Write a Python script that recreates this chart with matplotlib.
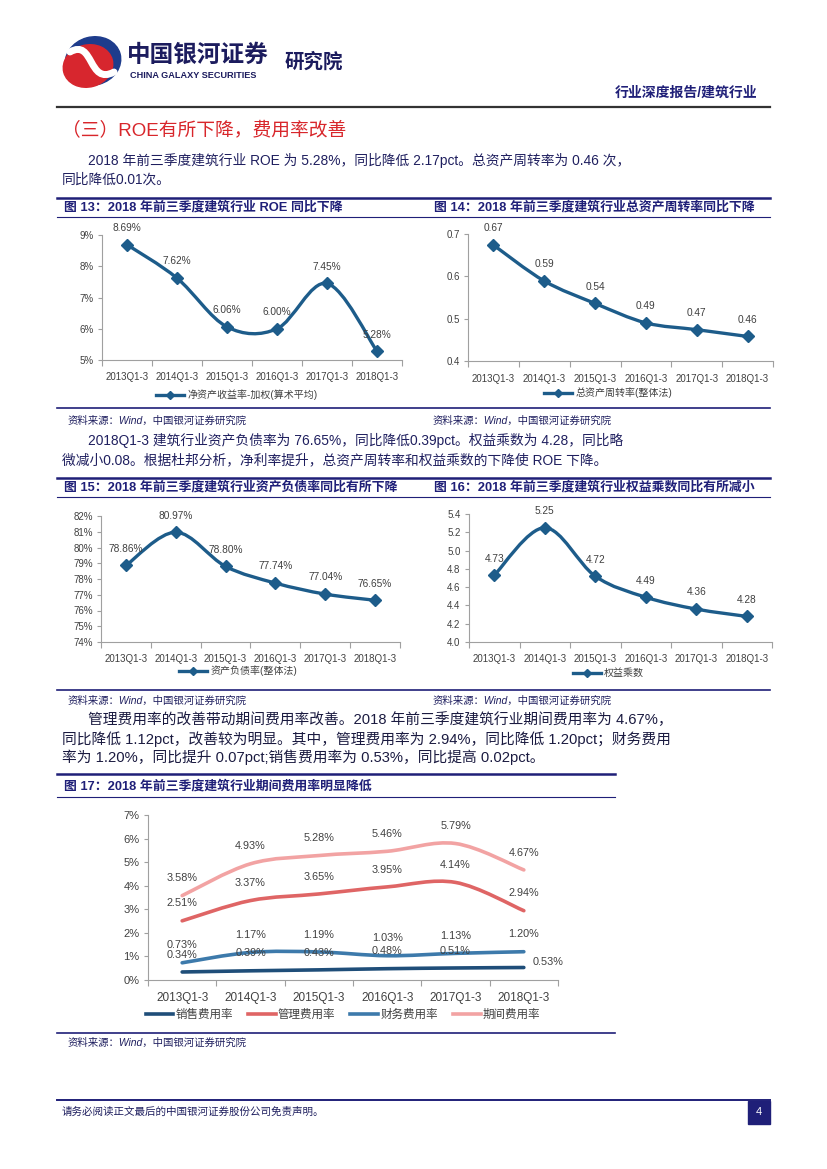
import numpy as np
import matplotlib
matplotlib.use("Agg")
import matplotlib.pyplot as plt
from matplotlib.path import Path
from matplotlib.patches import PathPatch, Ellipse, Rectangle
from matplotlib.lines import Line2D

plt.rcParams['font.family'] = ['Liberation Sans', 'Noto Sans CJK SC', 'DejaVu Sans']

# ---- data ----
quarters = ["2013Q1-3", "2014Q1-3", "2015Q1-3", "2016Q1-3", "2017Q1-3", "2018Q1-3"]
roe = [8.69, 7.62, 6.06, 6.00, 7.45, 5.28]
turnover = [0.674, 0.589, 0.536, 0.490, 0.474, 0.458]
turnover_labels = ["0.67", "0.59", "0.54", "0.49", "0.47", "0.46"]
debt_ratio = [78.86, 80.97, 78.80, 77.74, 77.04, 76.65]
equity_mult = [4.73, 5.25, 4.72, 4.49, 4.36, 4.28]
sales_exp = [0.34, 0.39, 0.43, 0.48, 0.51, 0.53]
admin_exp = [2.51, 3.37, 3.65, 3.95, 4.14, 2.94]
fin_exp = [0.73, 1.17, 1.19, 1.03, 1.13, 1.20]
period_exp = [3.58, 4.93, 5.28, 5.46, 5.79, 4.67]

W, H = 827, 1169
NAVY = '#1F1F78'
LINE_BLUE = '#1D5C8A'
GREY_TXT = '#404040'
TEXT_C = '#1F1F5F'


def fx(x):
    return x / W


def fy(y):
    return 1 - y / H


fig = plt.figure(figsize=(W / 100, H / 100), dpi=100)


def hline(y, x0, x1, lw=1.0, color=NAVY):
    fig.add_artist(Line2D([fx(x0), fx(x1)], [fy(y), fy(y)], transform=fig.transFigure,
                          color=color, lw=lw))


def txt(x, y, s, **kw):
    kw.setdefault('va', 'center')
    fig.text(fx(x), fy(y), s, **kw)


def smooth_path(xs, ys):
    # Excel style smoothed line through the points (cubic bezier)
    pts = np.column_stack([xs, ys]).astype(float)
    n = len(pts)
    verts = [pts[0]]
    codes = [Path.MOVETO]
    for i in range(n - 1):
        p0 = pts[i - 1] if i > 0 else pts[i]
        p1 = pts[i]
        p2 = pts[i + 1]
        p3 = pts[i + 2] if i + 2 < n else pts[i + 1]
        verts += [p1 + (p2 - p0) / 6, p2 - (p3 - p1) / 6, p2]
        codes += [Path.CURVE4] * 3
    return Path(verts, codes)


def make_ax(left, top, right, bottom, ylim, yticks, ylabels, fs=7, xfs=7):
    ax = fig.add_axes([fx(left), fy(bottom), (right - left) / W, (bottom - top) / H])
    ax.set_xlim(-0.5, 5.5)
    ax.set_ylim(ylim)
    for s in ['top', 'right']:
        ax.spines[s].set_visible(False)
    for s in ['left', 'bottom']:
        ax.spines[s].set_color('#A0A0A0')
        ax.spines[s].set_linewidth(0.8)
    ax.set_yticks(yticks)
    ax.set_yticklabels(ylabels, fontsize=fs, color=GREY_TXT)
    ax.set_xticks(range(6))
    ax.set_xticklabels(quarters, fontsize=xfs, color=GREY_TXT)
    ax.set_xticks(np.arange(-0.5, 6, 1), minor=True)
    ax.tick_params(axis='x', which='major', length=0, pad=9)
    ax.tick_params(axis='x', which='minor', length=4, color='#A0A0A0', width=0.8)
    ax.tick_params(axis='y', length=3, color='#A0A0A0', width=0.8, pad=3)
    ax.patch.set_alpha(0)
    return ax


def line_chart(ax, vals, labels, legend_text, legend_xy):
    x = np.arange(len(vals))
    ax.add_patch(PathPatch(smooth_path(x, vals), fill=False, edgecolor=LINE_BLUE,
                           lw=2.4, capstyle='round', joinstyle='round', zorder=3))
    ax.plot(x, vals, 'D', color=LINE_BLUE, ms=6.5, zorder=4)
    for xi, v, lab in zip(x, vals, labels):
        ax.annotate(lab, (xi, v), xytext=(0, 12), textcoords='offset points',
                    ha='center', va='center', fontsize=7.3, color=GREY_TXT)
    h = Line2D([], [], color=LINE_BLUE, lw=2.4, marker='D', ms=4.5)
    fig.legend(handles=[h], labels=[legend_text], loc='center',
               bbox_to_anchor=(fx(legend_xy[0]), fy(legend_xy[1])), frameon=False,
               fontsize=7.2, handlelength=2.8, handletextpad=0.3,
               labelcolor=GREY_TXT)


# ---- header ----
ax_logo = fig.add_axes([fx(62), fy(90), 62 / W, 55 / H])
ax_logo.set_xlim(62, 124)
ax_logo.set_ylim(90, 35)
ax_logo.axis('off')
ax_logo.add_patch(Ellipse((93, 61), 56, 48, angle=-15, color='#1E3C8C'))
ax_logo.add_patch(Ellipse((88, 66), 50, 42, angle=-15, color='#D7262E'))
ax_logo.add_patch(PathPatch(Path([(70, 52), (94, 38), (88, 86), (114, 72)],
                                 [Path.MOVETO, Path.CURVE4, Path.CURVE4, Path.CURVE4]),
                            fill=False, edgecolor='white', lw=5, capstyle='round'))

txt(127, 55, "中国银河证券", fontsize=17, fontweight='bold', color='#1C1C5E')
txt(130, 75, "CHINA GALAXY SECURITIES", fontsize=6.6, fontweight='bold', color='#1C1C5E')
txt(285, 62, "研究院", fontsize=14, fontweight='bold', color='#1C1C5E')
txt(757, 93, "行业深度报告/建筑行业", fontsize=10, fontweight='bold', color=NAVY, ha='right')
hline(107, 57, 770, lw=1.6, color='#333333')

# ---- section heading and text ----
txt(62, 131, "（三）ROE有所下降，费用率改善", fontsize=13.5, color='#D8262B')
txt(88, 160, "2018 年前三季度建筑行业 ROE 为 5.28%，同比降低 2.17pct。总资产周转率为 0.46 次，",
    fontsize=9.9, color=TEXT_C)
txt(62, 180, "同比降低0.01次。", fontsize=9.9, color=TEXT_C)

# ---- chart 13 / 14 ----
hline(198, 57, 770, lw=1.8)
hline(217, 57, 770, lw=0.8)
hline(408, 57, 770, lw=1.2)
txt(64, 207, "图 13：2018 年前三季度建筑行业 ROE 同比下降", fontsize=9.3, fontweight='bold', color=NAVY)
txt(434, 207, "图 14：2018 年前三季度建筑行业总资产周转率同比下降", fontsize=9.3, fontweight='bold', color=NAVY)

ax13 = make_ax(102, 235, 402, 360, (5, 9), [5, 6, 7, 8, 9], ["5%", "6%", "7%", "8%", "9%"])
line_chart(ax13, roe, [f"{v:.2f}%" for v in roe], "净资产收益率-加权(算术平均)", (237, 395))

ax14 = make_ax(468, 234, 773, 361, (0.4, 0.7), [0.4, 0.5, 0.6, 0.7], ["0.4", "0.5", "0.6", "0.7"])
line_chart(ax14, turnover, turnover_labels, "总资产周转率(整体法)", (608, 393))

txt(68, 421, "资料来源：Wind，中国银河证券研究院", fontsize=7.5, color=TEXT_C, style='italic')
txt(433, 421, "资料来源：Wind，中国银河证券研究院", fontsize=7.5, color=TEXT_C, style='italic')

txt(88, 440, "2018Q1-3 建筑行业资产负债率为 76.65%，同比降低0.39pct。权益乘数为 4.28，同比略",
    fontsize=9.9, color=TEXT_C)
txt(62, 460, "微减小0.08。根据杜邦分析，净利率提升，总资产周转率和权益乘数的下降使 ROE 下降。",
    fontsize=9.9, color=TEXT_C)

# ---- chart 15 / 16 ----
hline(478, 57, 770, lw=1.8)
hline(497, 57, 770, lw=0.8)
hline(690, 57, 770, lw=1.2)
txt(64, 487, "图 15：2018 年前三季度建筑行业资产负债率同比有所下降", fontsize=9.3, fontweight='bold', color=NAVY)
txt(434, 487, "图 16：2018 年前三季度建筑行业权益乘数同比有所减小", fontsize=9.3, fontweight='bold', color=NAVY)

ax15 = make_ax(101, 516, 400, 642, (74, 82), list(range(74, 83)), [f"{v}%" for v in range(74, 83)])
line_chart(ax15, debt_ratio, [f"{v:.2f}%" for v in debt_ratio], "资产负债率(整体法)", (238, 671))

ax16 = make_ax(469, 514, 772, 642, (4.0, 5.4), [4.0, 4.2, 4.4, 4.6, 4.8, 5.0, 5.2, 5.4],
               ["4.0", "4.2", "4.4", "4.6", "4.8", "5.0", "5.2", "5.4"])
line_chart(ax16, equity_mult, [f"{v:.2f}" for v in equity_mult], "权益乘数", (608, 673))

txt(68, 701, "资料来源：Wind，中国银河证券研究院", fontsize=7.5, color=TEXT_C, style='italic')
txt(433, 701, "资料来源：Wind，中国银河证券研究院", fontsize=7.5, color=TEXT_C, style='italic')

BODY3 = '#1A1A40'
txt(88, 720, "管理费用率的改善带动期间费用率改善。2018 年前三季度建筑行业期间费用率为 4.67%，",
    fontsize=10.6, color=BODY3)
txt(62, 739, "同比降低 1.12pct，改善较为明显。其中，管理费用率为 2.94%，同比降低 1.20pct；财务费用",
    fontsize=10.6, color=BODY3)
txt(62, 757, "率为 1.20%，同比提升 0.07pct;销售费用率为 0.53%，同比提高 0.02pct。",
    fontsize=10.6, color=BODY3)

# ---- chart 17 ----
hline(774, 57, 615, lw=1.8)
hline(797, 57, 615, lw=0.8)
hline(1033, 57, 615, lw=1.2)
txt(64, 786, "图 17：2018 年前三季度建筑行业期间费用率明显降低", fontsize=9.3, fontweight='bold', color=NAVY)

ax17 = make_ax(148, 815, 558, 980, (0, 7), list(range(8)), [f"{v}%" for v in range(8)],
               fs=8, xfs=8.5)
series17 = [
    ("销售费用率", sales_exp, '#1F4E79'),
    ("管理费用率", admin_exp, '#DF6565'),
    ("财务费用率", fin_exp, '#3D7AAB'),
    ("期间费用率", period_exp, '#F2A3A3'),
]
x = np.arange(6)
handles = []
for name, vals, c in series17:
    ax17.add_patch(PathPatch(smooth_path(x, vals), fill=False, edgecolor=c, lw=2.6,
                             capstyle='round', zorder=3))
    for xi, v in zip(x, vals):
        if name == "销售费用率" and xi == 5:
            ax17.annotate(f"{v:.2f}%", (xi, v), xytext=(6, 4), textcoords='offset points',
                          ha='left', va='center', fontsize=7.8, color=GREY_TXT, zorder=5)
        else:
            ax17.annotate(f"{v:.2f}%", (xi, v), xytext=(0, 12.5), textcoords='offset points',
                          ha='center', va='center', fontsize=7.8, color=GREY_TXT, zorder=5)
    handles.append(Line2D([], [], color=c, lw=2.6))
fig.legend(handles=handles, labels=[s[0] for s in series17], loc='center', ncol=4,
           bbox_to_anchor=(fx(343), fy(1015)), frameon=False, fontsize=8.3,
           handlelength=2.4, handletextpad=0.2, columnspacing=1.3, labelcolor=GREY_TXT)

txt(68, 1043, "资料来源：Wind，中国银河证券研究院", fontsize=7.5, color=TEXT_C, style='italic')

# ---- footer ----
hline(1100, 57, 770, lw=1.4)
txt(62, 1112, "请务必阅读正文最后的中国银河证券股份公司免责声明。", fontsize=7.6, color=TEXT_C)
fig.add_artist(Rectangle((fx(748), fy(1124)), 22 / W, 23 / H, transform=fig.transFigure,
                         color='#1F1F78'))
txt(759, 1112, "4", fontsize=8, color='white', ha='center')

fig.savefig("out.png", dpi=100)
